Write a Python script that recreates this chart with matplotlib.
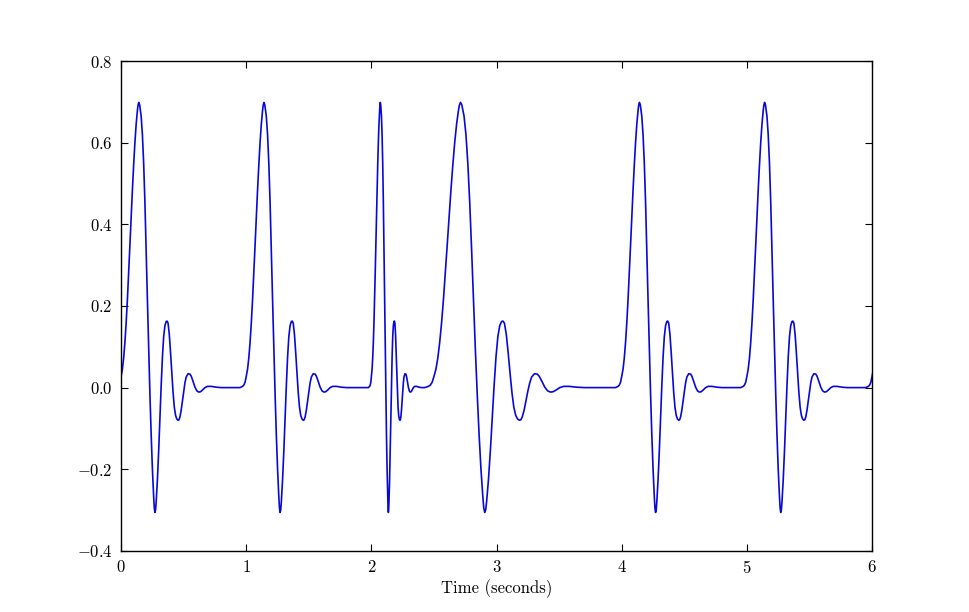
import numpy as np
import matplotlib
matplotlib.use("Agg")
import matplotlib.pyplot as plt

# Pulse onset times (s) and time-scale factors
pulse_starts = [0.0, 1.0, 2.0, 2.5, 4.0, 5.0, 6.0]
pulse_scales = [1.0, 1.0, 0.5, 1.5, 1.0, 1.0, 1.0]

# Pulse waveform (time relative to onset, value)
template_t = [-0.05, -0.03, -0.02, -0.01, 0.00, 0.01, 0.02, 0.03, 0.04, 0.05,
              0.06, 0.07, 0.08, 0.09, 0.10, 0.11, 0.12, 0.13, 0.135, 0.141,
              0.148, 0.16, 0.17, 0.18, 0.19, 0.20, 0.21, 0.22, 0.23, 0.24,
              0.25, 0.26, 0.265, 0.27, 0.275, 0.28, 0.29, 0.30, 0.31, 0.32,
              0.33, 0.34, 0.35, 0.36, 0.367, 0.375, 0.385, 0.395, 0.405, 0.415,
              0.425, 0.435, 0.445, 0.455, 0.462, 0.47, 0.48, 0.49, 0.50, 0.51,
              0.52, 0.535, 0.55, 0.56, 0.575, 0.59, 0.605, 0.62, 0.635, 0.65,
              0.67, 0.69, 0.72, 0.76, 0.80]
template_v = [0.0, 0.003, 0.006, 0.013, 0.028, 0.045, 0.072, 0.110, 0.158, 0.215,
              0.280, 0.348, 0.418, 0.484, 0.545, 0.600, 0.645, 0.679, 0.692, 0.699,
              0.693, 0.665, 0.620, 0.550, 0.455, 0.340, 0.215, 0.095, -0.015, -0.115,
              -0.200, -0.268, -0.295, -0.306, -0.300, -0.280, -0.225, -0.155, -0.075, 0.005,
              0.075, 0.125, 0.152, 0.162, 0.163, 0.158, 0.130, 0.085, 0.035, -0.012,
              -0.048, -0.068, -0.077, -0.080, -0.079, -0.072, -0.055, -0.032, -0.008, 0.012,
              0.026, 0.034, 0.033, 0.028, 0.015, 0.001, -0.008, -0.011, -0.010, -0.006,
              0.0, 0.003, 0.003, 0.001, 0.0]

plt.rcParams['font.family'] = ['cmr10', 'DejaVu Serif']
plt.rcParams['mathtext.fontset'] = 'cm'
plt.rcParams['axes.formatter.use_mathtext'] = True
plt.rcParams['font.size'] = 12

fig = plt.figure(figsize=(9.69, 6.12), dpi=100)
ax = fig.add_axes([0.125, 0.1, 0.775, 0.8])

tt = np.array(template_t)
vv = np.array(template_v)
xs, ys = [], []
for s, k in zip(pulse_starts, pulse_scales):
    xs.append(s + k * tt)
    ys.append(vv)
x = np.concatenate(xs)
y = np.concatenate(ys)
ax.plot(x, y, color='#0808d8', lw=1.2)

ax.set_xlim(0, 6)
ax.set_ylim(-0.4, 0.8)
ax.set_xticks([0, 1, 2, 3, 4, 5, 6])
ax.set_yticks([-0.4, -0.2, 0.0, 0.2, 0.4, 0.6, 0.8])
ax.tick_params(direction='in', top=True, right=True, length=5, width=0.8, pad=6, labelsize=12)
for sp in ax.spines.values():
    sp.set_linewidth(1.0)
ax.set_xlabel('Time (seconds)', fontsize=12, labelpad=2)

fig.savefig('out.png', dpi=100, facecolor='white')
